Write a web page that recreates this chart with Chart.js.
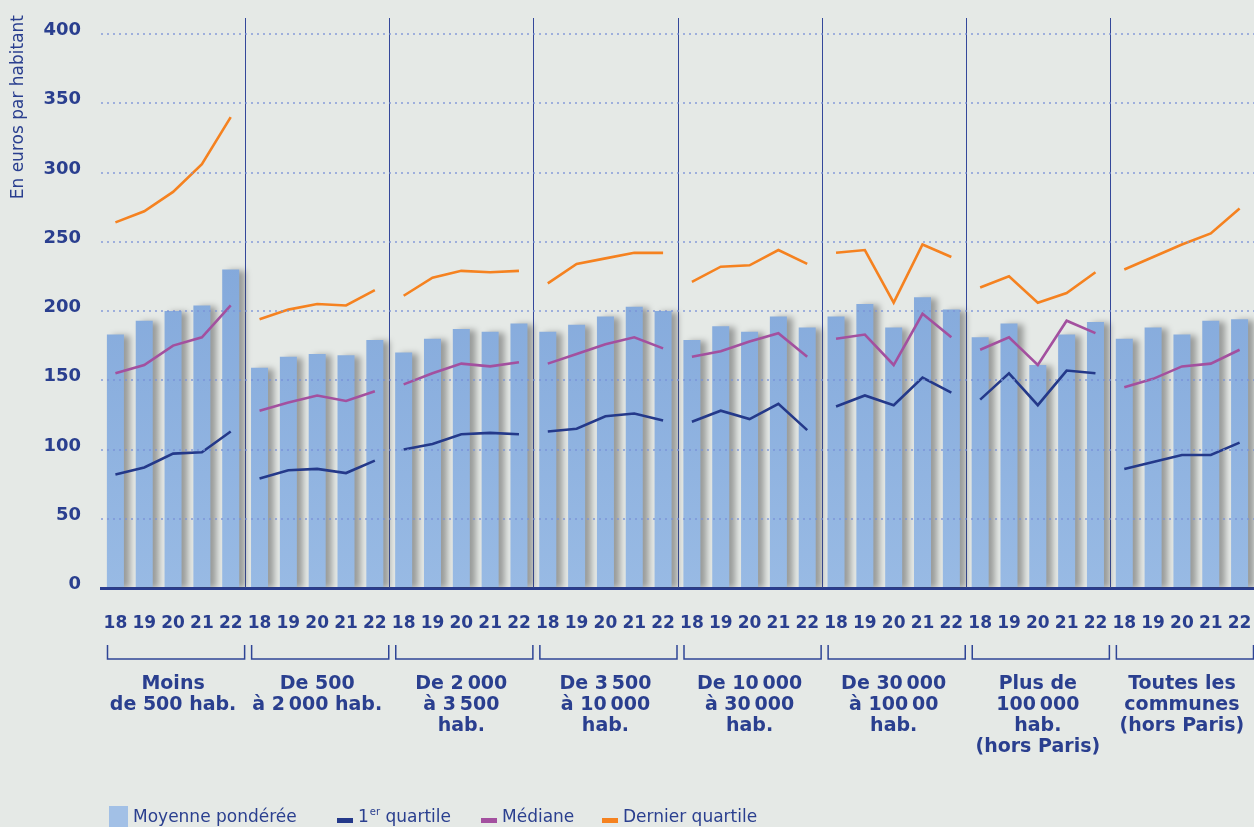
<!DOCTYPE html>
<html><head><meta charset="utf-8">
<script src="https://cdn.jsdelivr.net/npm/chart.js@4.4.1/dist/chart.umd.min.js"></script>
<style>html,body{margin:0;padding:0;background:#e5e9e6;overflow:hidden}canvas{display:block}</style>
</head><body>
<canvas id="c" width="1254" height="827"></canvas>
<script>
// ---- DATA ----
const YEARS = ['18', '19', '20', '21', '22'];
const GROUPS = [
  ['Moins', 'de 500 hab.'],
  ['De 500', 'à 2\u202F000 hab.'],
  ['De 2\u202F000', 'à 3\u202F500', 'hab.'],
  ['De 3\u202F500', 'à 10\u202F000', 'hab.'],
  ['De 10\u202F000', 'à 30\u202F000', 'hab.'],
  ['De 30\u202F000', 'à 100\u202F00', 'hab.'],
  ['Plus de', '100\u202F000', 'hab.', '(hors Paris)'],
  ['Toutes les', 'communes', '(hors Paris)']
];
const Y_TICKS = [0, 50, 100, 150, 200, 250, 300, 350, 400];
const Y_TITLE = 'En euros par habitant';

const MOYENNE = [
  183, 193, 200, 204, 230,
  159, 167, 169, 168, 179,
  170, 180, 187, 185, 191,
  185, 190, 196, 203, 200,
  179, 189, 185, 196, 188,
  196, 205, 188, 210, 201,
  181, 191, 161, 183, 192,
  180, 188, 183, 193, 194
];
const QUARTILE_1 = [
  82, 87, 97, 98, 113,
  79, 85, 86, 83, 92,
  100, 104, 111, 112, 111,
  113, 115, 124, 126, 121,
  120, 128, 122, 133, 114,
  131, 139, 132, 152, 141,
  136, 155, 132, 157, 155,
  86, 91, 96, 96, 105
];
const MEDIANE = [
  155, 161, 175, 181, 204,
  128, 134, 139, 135, 142,
  147, 155, 162, 160, 163,
  162, 169, 176, 181, 173,
  167, 171, 178, 184, 167,
  180, 183, 161, 198, 181,
  172, 181, 161, 193, 184,
  145, 151, 160, 162, 172
];
const DERNIER_QUARTILE = [
  264, 272, 286, 306, 340,
  194, 201, 205, 204, 215,
  211, 224, 229, 228, 229,
  220, 234, 238, 242, 242,
  221, 232, 233, 244, 234,
  242, 244, 206, 248, 239,
  217, 225, 206, 213, 228,
  230, 239, 248, 256, 274
];

// ---- STYLE ----
const TXT = '#2a3f8f';
const FONT = '"DejaVu Sans", "Liberation Sans", sans-serif';
const C_BAR_LEG = '#a2c0e6';
const C_Q1 = '#24398a';
const C_MED = '#a3509f';
const C_LAST = '#f58220';
const BG = '#e5e9e6';

const labels = GROUPS.flatMap(() => YEARS);
const N = YEARS.length;

const breakSeg = { borderColor: c => (c.p0DataIndex % N === N - 1) ? 'rgba(0,0,0,0)' : undefined };

function lineDs(label, data, color) {
  return { type: 'line', label, data, borderColor: color, backgroundColor: color,
    borderWidth: 2.6, pointRadius: 0, pointHoverRadius: 0, tension: 0, fill: false,
    order: 0, segment: breakSeg };
}

const bgPlugin = {
  id: 'bg',
  beforeDraw(chart) {
    const c = chart.ctx; c.save(); c.fillStyle = BG; c.fillRect(0, 0, chart.width, chart.height); c.restore();
  }
};

const shadowPlugin = {
  id: 'barShadow',
  beforeDatasetDraw(chart, args) {
    if (args.meta.type !== 'bar') return;
    const c = chart.ctx; c.save();
    c.shadowColor = 'rgba(60,60,60,0.45)'; c.shadowOffsetX = 6; c.shadowOffsetY = 1; c.shadowBlur = 6;
  },
  afterDatasetDraw(chart, args) {
    if (args.meta.type !== 'bar') return;
    chart.ctx.restore();
  }
};

function boundary(chart, g) {
  const xs = chart.scales.x, a = chart.chartArea;
  if (g <= 0) return a.left;
  if (g >= GROUPS.length) return a.right;
  return (xs.getPixelForValue(g * N - 1) + xs.getPixelForValue(g * N)) / 2;
}

const decorPlugin = {
  id: 'decor',
  beforeDatasetsDraw(chart) {
    const c = chart.ctx, a = chart.chartArea;
    c.save();
    c.strokeStyle = '#34489a'; c.lineWidth = 1;
    for (let g = 1; g < GROUPS.length; g++) {
      const x = Math.round(boundary(chart, g)) + 0.5;
      c.beginPath(); c.moveTo(x, 18); c.lineTo(x, a.bottom); c.stroke();
    }
    c.restore();
  },
  afterDraw(chart) {
    const c = chart.ctx, a = chart.chartArea, xs = chart.scales.x, ys = chart.scales.y;
    c.save();
    c.fillStyle = TXT;
    // y ticks
    c.font = 'bold 18px ' + FONT; c.textAlign = 'right'; c.textBaseline = 'alphabetic';
    Y_TICKS.forEach(v => c.fillText(String(v), 81, ys.getPixelForValue(v) + 1));
    // y title
    c.save(); c.translate(19, 15); c.rotate(-Math.PI / 2);
    c.font = '17px ' + FONT; c.textAlign = 'right'; c.textBaseline = 'middle';
    c.fillText(Y_TITLE, 0, 0); c.restore();
    // x ticks
    c.font = 'bold 17px ' + FONT; c.textAlign = 'center'; c.textBaseline = 'alphabetic';
    labels.forEach((l, i) => c.fillText(l, xs.getPixelForValue(i), 627.5));
    // brackets + group labels
    c.strokeStyle = '#2f4596'; c.lineWidth = 1.5;
    c.font = 'bold 19px ' + FONT;
    GROUPS.forEach((lines, g) => {
      const l = boundary(chart, g) + 6.5, r = boundary(chart, g + 1) - 0.5;
      c.beginPath(); c.moveTo(l, 645); c.lineTo(l, 659); c.lineTo(r, 659); c.lineTo(r, 645); c.stroke();
      const cx = (boundary(chart, g) + boundary(chart, g + 1)) / 2;
      lines.forEach((t, j) => c.fillText(t, cx, 689 + 21 * j));
    });
    // legend
    const ds = chart.data.datasets;
    c.textAlign = 'left'; c.font = '17px ' + FONT;
    c.fillStyle = C_BAR_LEG; c.fillRect(109, 806, 19, 21);
    c.fillStyle = TXT; c.fillText(ds[0].label, 133, 822);
    const items = [[ds[1], 337, 358], [ds[2], 481, 502], [ds[3], 602, 623]];
    items.forEach(([d, xm, xt]) => {
      c.fillStyle = d.borderColor; c.fillRect(xm, 818, 16, 5);
      c.fillStyle = TXT;
      const m = d.label.match(/^(\d+)(er)(.*)$/);
      if (m) {
        c.font = '17px ' + FONT; c.fillText(m[1], xt, 822);
        let x = xt + c.measureText(m[1]).width + 1;
        c.font = '10px ' + FONT; c.fillText(m[2], x, 815);
        x += c.measureText(m[2]).width;
        c.font = '17px ' + FONT; c.fillText(m[3], x, 822);
      } else {
        c.font = '17px ' + FONT; c.fillText(d.label, xt, 822);
      }
    });
    c.restore();
  }
};

new Chart(document.getElementById('c'), {
  type: 'bar',
  data: {
    labels,
    datasets: [
      { type: 'bar', label: 'Moyenne pondérée', data: MOYENNE, order: 1,
        barPercentage: 0.59, categoryPercentage: 1.0, borderWidth: 0,
        backgroundColor(ctx) {
          const a = ctx.chart.chartArea;
          if (!a) return '#8cb0de';
          const gr = ctx.chart.ctx.createLinearGradient(0, a.top + 150, 0, a.bottom);
          gr.addColorStop(0, '#7fa5d9'); gr.addColorStop(1, '#98bae4');
          return gr;
        } },
      lineDs('1er quartile', QUARTILE_1, C_Q1),
      lineDs('Médiane', MEDIANE, C_MED),
      lineDs('Dernier quartile', DERNIER_QUARTILE, C_LAST)
    ]
  },
  options: {
    responsive: false, animation: false, devicePixelRatio: 1,
    layout: { padding: { left: 101, right: 0, top: 34, bottom: 239 } },
    plugins: { legend: { display: false }, tooltip: { enabled: false } },
    scales: {
      x: { type: 'category', offset: true,
        grid: { display: false, drawTicks: false },
        border: { display: true, color: '#2a3d8f', width: 3 },
        ticks: { display: false },
        afterFit(s) { s.height = 0; } },
      y: { min: 0, max: 400,
        ticks: { display: false, stepSize: 50 },
        border: { display: false, dash: [2, 4] },
        grid: { z: 1, drawTicks: false, lineWidth: 2,
          color: ctx => (ctx.tick && ctx.tick.value === 0) ? 'rgba(0,0,0,0)' : 'rgba(120,145,215,0.65)' },
        afterFit(s) { s.width = 0; } }
    }
  },
  plugins: [bgPlugin, shadowPlugin, decorPlugin]
});
</script>
</body></html>
